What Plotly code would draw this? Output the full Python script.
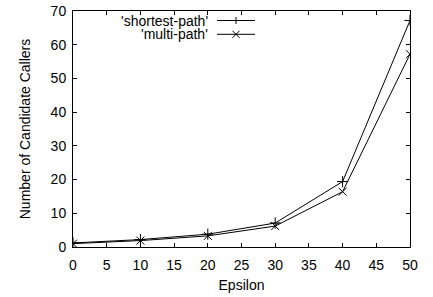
import plotly.graph_objects as go

epsilon = [0, 10, 20, 30, 40, 50]
shortest_path = [1.2, 2.2, 3.8, 7.1, 19.4, 67.2]
multi_path = [1.0, 1.9, 3.3, 6.2, 16.4, 57.2]
series_names = ["'shortest-path'", "'multi-path'"]
x_ticks = [0, 5, 10, 15, 20, 25, 30, 35, 40, 45, 50]
y_ticks = [0, 10, 20, 30, 40, 50, 60, 70]

W, H = 433, 297
L, R, T, B = 73, 23, 11, 50
FONT = "Liberation Sans"
FS = 14

fig = go.Figure()
fig.add_trace(go.Scatter(x=epsilon, y=shortest_path, mode="lines+markers",
                         line=dict(color="black", width=1),
                         marker=dict(symbol="cross-thin", size=8, line=dict(color="black", width=1)),
                         showlegend=False))
fig.add_trace(go.Scatter(x=epsilon, y=multi_path, mode="lines+markers",
                         line=dict(color="black", width=1),
                         marker=dict(symbol="x-thin", size=8, line=dict(color="black", width=1)),
                         showlegend=False))

axis_common = dict(showgrid=False, zeroline=False, ticks="inside", ticklen=4, automargin=False,
                   tickcolor="black", linecolor="black", linewidth=1, mirror="ticks",
                   showline=True, tickfont=dict(family=FONT, size=FS, color="black"))

fig.update_layout(
    template="none",
    width=W, height=H,
    margin=dict(l=L, r=R, t=T, b=B, autoexpand=False),
    paper_bgcolor="white", plot_bgcolor="white",
    xaxis=dict(range=[0, 50], tickvals=x_ticks, ticklabelstandoff=5, **axis_common,
               title=dict(text="Epsilon", font=dict(family=FONT, size=FS, color="black"), standoff=8)),
    yaxis=dict(range=[0, 70], tickvals=y_ticks, ticklabelstandoff=3, **axis_common,
               title=dict(text="Number of Candidate Callers", font=dict(family=FONT, size=FS, color="black"), standoff=16)),
)

# gnuplot-style key (text on left, sample on right); positions in page pixels
pw = W - L - R
ph = H - T - B
def px(xp):
    return (xp - L) / pw
def py(yp):
    return 1 - (yp - T) / ph

key_rows = [20.5, 34.3]
text_right = 210
line_x0, line_x1, mark_x = 217, 255, 236
for i, (name, yrow) in enumerate(zip(series_names, key_rows)):
    fig.add_annotation(x=px(text_right), y=py(yrow), xref="paper", yref="paper",
                       text=name, showarrow=False, xanchor="right", yanchor="middle",
                       font=dict(family=FONT, size=FS, color="black"))
    fig.add_shape(type="line", xref="paper", yref="paper",
                  x0=px(line_x0), x1=px(line_x1), y0=py(yrow), y1=py(yrow),
                  line=dict(color="black", width=1))
    s = 3.5
    if i == 0:
        fig.add_shape(type="line", xref="paper", yref="paper",
                      x0=px(mark_x), x1=px(mark_x), y0=py(yrow - s), y1=py(yrow + s),
                      line=dict(color="black", width=1))
    else:
        fig.add_shape(type="line", xref="paper", yref="paper",
                      x0=px(mark_x - s), x1=px(mark_x + s), y0=py(yrow - s), y1=py(yrow + s),
                      line=dict(color="black", width=1))
        fig.add_shape(type="line", xref="paper", yref="paper",
                      x0=px(mark_x - s), x1=px(mark_x + s), y0=py(yrow + s), y1=py(yrow - s),
                      line=dict(color="black", width=1))

fig.write_html("out.html", config={"displayModeBar": False},
               post_script="document.body.style.margin='0';")
